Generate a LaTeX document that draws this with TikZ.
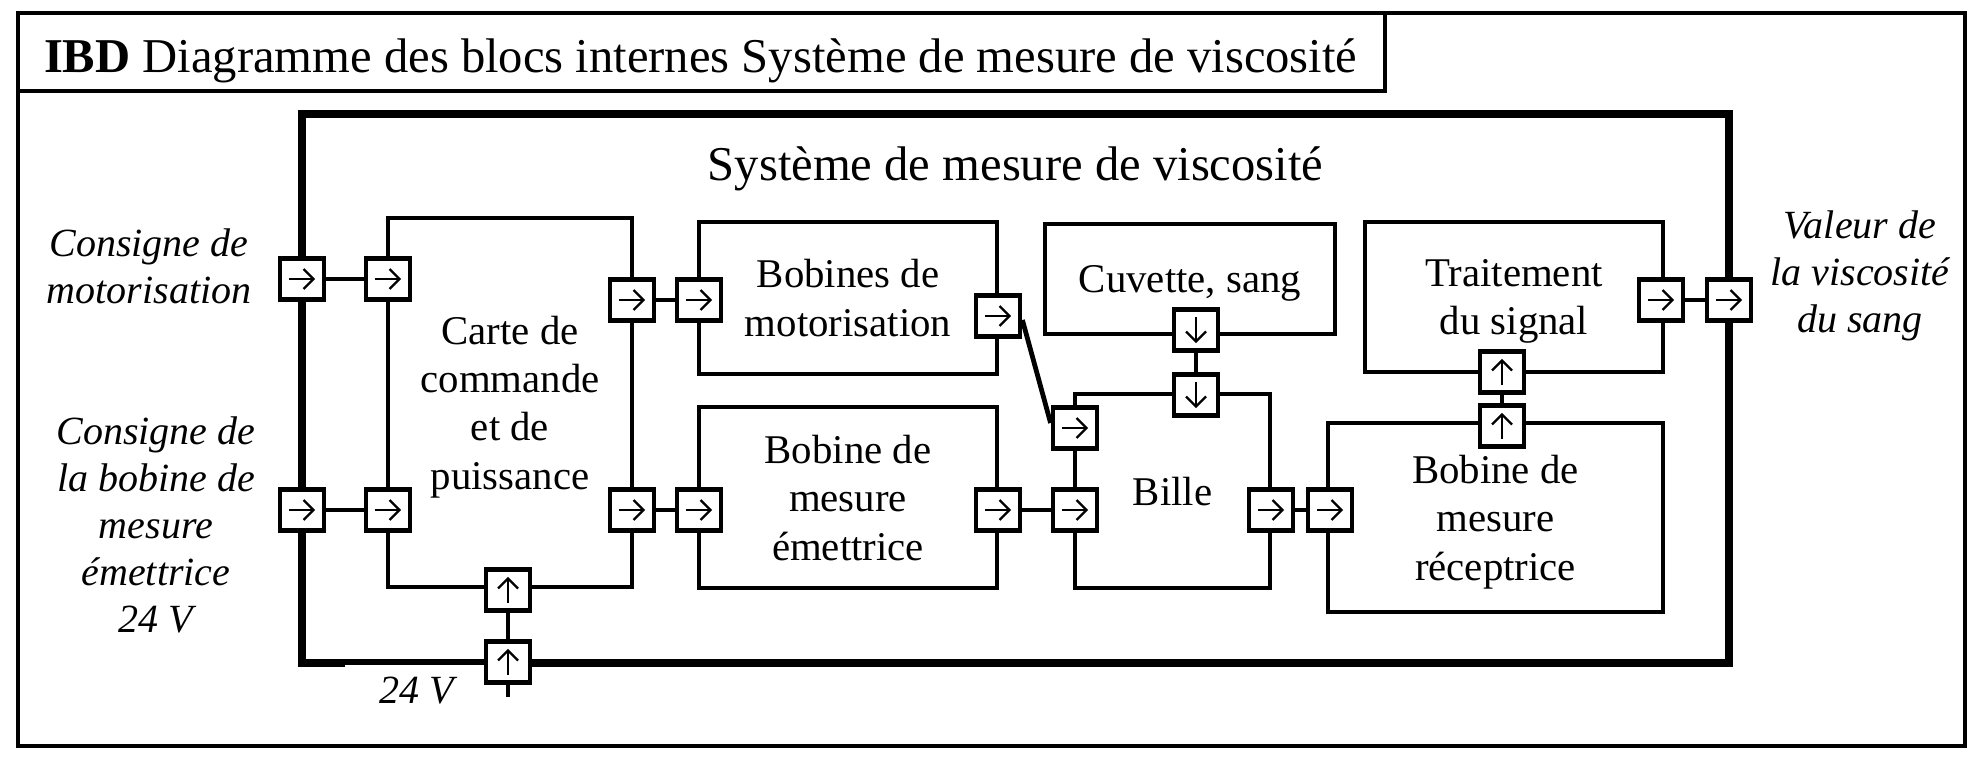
\documentclass[tikz,border=0pt]{standalone}
\usepackage{fontspec}
\setmainfont{Liberation Serif}
\usetikzlibrary{arrows.meta}

\begin{document}
\begin{tikzpicture}[x=0.5pt,y=-0.5pt,line width=2.4pt,
 block/.style={draw,line width=2.4pt,align=center,inner sep=0pt,text depth=0pt,font=\fontsize{20.4}{24.2}\selectfont},
 port/.style={draw,fill=white,line width=2.4pt,inner sep=0pt,minimum width=22pt,minimum height=20.6pt},
 portarrow/.style={line width=1.2pt,-{Straight Barb[length=5pt,width=10pt]}},
 east port/.style={port,path picture={\draw[portarrow] ([xshift=-6.6pt]path picture bounding box.center) -- ([xshift=6.6pt]path picture bounding box.center);}},
 north port/.style={port,path picture={\draw[portarrow] ([yshift=-6.6pt]path picture bounding box.center) -- ([yshift=6.6pt]path picture bounding box.center);}},
 south port/.style={port,path picture={\draw[portarrow] ([yshift=6.6pt]path picture bounding box.center) -- ([yshift=-6.6pt]path picture bounding box.center);}},
 io/.style={align=center,font=\fontsize{20}{23.6}\selectfont\itshape},
 heading/.style={font=\fontsize{24.3}{28}\selectfont}]
\useasboundingbox (0,0) rectangle (1976,760);
\draw (18,13) rectangle (1965,746);
\draw (18,91) -- (1385,91) -- (1385,13);
\node[heading,anchor=base west] (ttl) at (35,72) {\textbf{IBD} Diagramme des blocs internes Système de mesure de viscosité};
\draw[line width=4.35pt] (345,663) -- (302,663) -- (302,114) -- (1729,114) -- (1729,663) -- (508,663);
\draw[line width=3.35pt] (345,662) -- (508,662);
\node[heading,anchor=base] (sys) at (1015.5,180) {Système de mesure de viscosité};
\node[block,minimum width=122pt,minimum height=184.5pt] (carte) at (510,402.5) {Carte de\\commande\\et de\\puissance};
\node[block,minimum width=149pt,minimum height=76pt] (bmot) at (848,298) {Bobines de\\motorisation};
\node[block,minimum width=149pt,minimum height=90.5pt] (bem) at (848,497.5) {Bobine de\\mesure\\émettrice};
\node[block,minimum width=145pt,minimum height=55pt] (cuv) at (1190,279) {Cuvette, sang};
\node[block,minimum width=97.5pt,minimum height=97pt] (bille) at (1172.5,491) {Bille};
\node[block,minimum width=149pt,minimum height=75pt] (trait) at (1514,297) {Traitement\\du signal};
\node[block,minimum width=167.5pt,minimum height=94.5pt] (brec) at (1495.5,517.5) {Bobine de\\mesure\\réceptrice};
\node[east port] (fin1) at (302,279) {};
\node[east port] (fin2) at (302,510) {};
\node[east port] (fout) at (1729,300) {};
\node[north port] (fpow) at (508,662) {};
\node[east port] (cin1) at (388,279) {};
\node[east port] (cin2) at (388,510) {};
\node[east port] (cout1) at (632,300) {};
\node[east port] (cout2) at (632,510) {};
\node[north port] (cpow) at (508,590) {};
\node[east port] (bmin) at (699,300) {};
\node[east port] (bmout) at (998,316) {};
\node[east port] (bein) at (699,510) {};
\node[east port] (beout) at (998,510) {};
\node[east port] (biin1) at (1075,428) {};
\node[east port] (biin2) at (1075,510) {};
\node[east port] (biout) at (1271,510) {};
\node[south port] (bitop) at (1196,395) {};
\node[south port] (cuout) at (1196,330) {};
\node[east port] (brin) at (1330,510) {};
\node[north port] (brout) at (1502,426) {};
\node[north port] (trin) at (1502,372) {};
\node[east port] (trout) at (1661,300) {};
\coordinate (src) at (508,697);
\draw (fin1) -- (cin1);
\draw (fin2) -- (cin2);
\draw (cout1) -- (bmin);
\draw (cout2) -- (bein);
\draw ([yshift=-2pt]bmout.east) -- ([yshift=2.5pt]biin1.west);
\draw (beout) -- (biin2);
\draw (cuout) -- (bitop);
\draw (biout) -- (brin);
\draw (brout) -- (trin);
\draw (trout) -- (fout);
\draw (cpow) -- (fpow);
\draw (fpow) -- (src);
\node[io] (lmot) at (149,266) {Consigne de\\motorisation};
\node[io] (lbem) at (156,525) {Consigne de\\la bobine de\\mesure\\émettrice\\24 V};
\node[io] (lval) at (1860,276) {Valeur de\\la viscosité\\du sang};
\node[io,anchor=base] (lpow) at (417,703) {24 V};
\end{tikzpicture}
\end{document}
